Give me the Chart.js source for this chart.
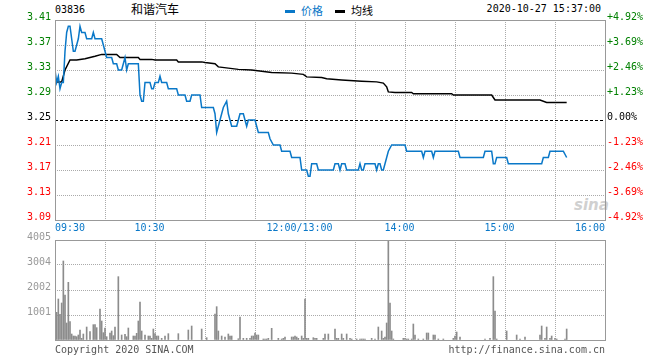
<!DOCTYPE html>
<html>
<head>
<meta charset="utf-8">
<script src="https://cdn.jsdelivr.net/npm/chart.js"></script>
<style>
body { margin: 0; background: #fff; }
#wrap { position: relative; width: 660px; height: 360px; overflow: hidden; font-family: "DejaVu Sans Mono", monospace; font-size: 10px; }
canvas { position: absolute; left: 0; }
.t { position: absolute; white-space: nowrap; line-height: 12px; }
.cn { font-family: "Noto Sans CJK SC", sans-serif; }
.sw { display: inline-block; width: 10px; height: 3px; vertical-align: middle; margin-right: 6px; position: relative; top: -1px; }
</style>
</head>
<body>
<div id="wrap">
  <span class="t" style="left:55px;top:4px;color:#000">03836</span>
  <span class="t cn" style="left:131px;top:2px;font-size:12px;line-height:14px;color:#000">和谐汽车</span>
  <span class="t cn" style="left:285px;top:3px;font-size:11px;line-height:14px;color:#0a78c8"><i class="sw" style="background:#0a78c8"></i>价格</span>
  <span class="t cn" style="left:335px;top:3px;font-size:11px;line-height:14px;color:#000"><i class="sw" style="background:#000"></i>均线</span>
  <span class="t" style="right:59px;top:3px;color:#000">2020-10-27 15:37:00</span>
  <span class="t" style="left:574px;top:196px;font:italic bold 15px 'DejaVu Sans',sans-serif;color:#d0d0d0">sina</span>
  <canvas id="priceChart" width="660" height="235" style="top:0"></canvas>
  <canvas id="volChart" width="660" height="125" style="top:225px"></canvas>
  <span class="t" style="left:55px;top:344px;color:#555">Copyright 2020 SINA.COM</span>
  <span class="t" style="right:55px;top:344px;color:#555">http://finance.sina.com.cn</span>
</div>
<script>
// 分时数据 (minutes from 09:30, lunch break removed)
const timeTicks = [0, 60, 150, 210, 270, 330];
const timeLabels = ["09:30", "10:30", "12:00/13:00", "14:00", "15:00", "16:00"];
const prevClose = 3.25;
const priceTicks = [3.09, 3.13, 3.17, 3.21, 3.25, 3.29, 3.33, 3.37, 3.41];
const pctTicks = [-4.92, -3.69, -2.46, -1.23, 0, 1.23, 2.46, 3.69, 4.92];
const volTicks = [0, 1001, 2002, 3004, 4005];

const priceMin = [0,1,2,3,4,5,6,7,8,9,10,11,12,13,14,15,16,18,19,22,23,24,28,29,30,31,34,35,37,38,40,41,42,43,44,50,51,52,53,54,57,58,59,60,62,63,64,67,68,73,74,78,79,81,82,87,88,95,96,97,98,99,100,101,103,104,105,106,109,110,111,113,114,115,116,120,121,122,128,129,131,135,136,141,142,147,148,151,152,153,154,157,158,167,168,170,171,172,174,175,182,183,184,185,186,192,193,194,195,196,197,198,199,200,202,210,211,220,221,222,226,227,228,242,243,257,258,262,263,264,265,271,272,292,293,296,297,305,307];
const priceVal = [3.33,3.31,3.32,3.30,3.31,3.31,3.36,3.39,3.40,3.40,3.38,3.36,3.36,3.37,3.38,3.40,3.39,3.39,3.38,3.38,3.39,3.38,3.38,3.37,3.36,3.35,3.35,3.34,3.34,3.33,3.33,3.34,3.35,3.33,3.34,3.34,3.29,3.28,3.28,3.31,3.31,3.30,3.30,3.31,3.31,3.32,3.31,3.31,3.30,3.30,3.29,3.29,3.28,3.28,3.29,3.29,3.27,3.27,3.26,3.23,3.24,3.25,3.26,3.27,3.28,3.26,3.25,3.24,3.24,3.25,3.26,3.26,3.25,3.24,3.25,3.25,3.24,3.23,3.23,3.22,3.21,3.21,3.20,3.20,3.19,3.19,3.17,3.17,3.16,3.16,3.18,3.18,3.17,3.17,3.18,3.18,3.17,3.18,3.18,3.17,3.17,3.18,3.17,3.17,3.18,3.18,3.17,3.18,3.18,3.17,3.17,3.18,3.19,3.20,3.21,3.21,3.20,3.20,3.19,3.20,3.20,3.19,3.20,3.20,3.19,3.19,3.20,3.20,3.18,3.18,3.19,3.19,3.18,3.18,3.19,3.19,3.20,3.20,3.19];

const avgMin = [0,4,6,9,13,18,24,28,37,39,50,51,58,60,73,74,88,90,96,98,104,110,118,130,142,149,151,160,163,172,184,193,197,199,200,204,214,215,238,239,262,264,291,295,307];
const avgVal = [3.311,3.311,3.33,3.346,3.346,3.348,3.352,3.355,3.355,3.350,3.350,3.347,3.347,3.346,3.346,3.343,3.343,3.342,3.340,3.335,3.333,3.331,3.330,3.326,3.325,3.323,3.319,3.318,3.316,3.314,3.312,3.311,3.309,3.303,3.295,3.294,3.294,3.292,3.292,3.290,3.290,3.282,3.282,3.278,3.278];

const volMin = [1,2,3,4,5,6,7,8,9,10,11,12,13,14,15,16,17,19,21,23,24,25,27,28,29,30,31,33,34,35,36,38,40,42,43,44,47,48,49,50,51,52,54,56,57,58,59,60,61,62,64,66,68,74,80,82,88,91,96,97,98,100,102,104,105,106,110,111,113,115,117,118,119,120,121,122,125,126,127,128,130,134,136,137,138,142,143,144,145,146,148,149,150,151,152,155,156,157,161,162,164,168,169,170,172,173,175,177,178,181,183,184,185,186,190,192,194,196,197,198,199,200,201,202,203,209,210,211,212,214,215,216,218,221,223,224,227,228,230,233,239,240,241,243,258,261,263,264,265,271,277,279,282,291,292,294,295,297,298,300,301,306,307];
const volVal = [1108,1642,1028,1482,3164,1802,681,2310,734,240,160,160,133,200,400,67,240,520,334,614,614,494,1242,761,294,480,133,280,360,174,520,2537,200,227,133,480,160,160,267,761,1522,360,200,160,160,67,440,254,160,160,67,160,254,254,400,560,440,93,1041,1335,360,160,120,240,160,160,50,921,67,67,67,160,160,280,200,200,40,40,40,67,467,67,40,67,120,120,120,160,120,67,160,67,1642,67,67,93,67,67,67,240,240,440,67,67,240,67,240,67,40,40,40,40,40,40,67,40,520,360,67,120,681,4005,1482,360,40,67,67,40,40,40,640,200,40,40,280,280,200,200,40,40,67,160,320,120,40,67,2537,1161,40,360,200,40,120,200,560,67,520,67,160,67,40,40,440];

const green = "#008000", red = "#ff0000", blue = "#0a78c8", gridGray = "#aaaaaa";
const monoFont = { family: "DejaVu Sans Mono", size: 10 };

function pts(xs, ys) { return xs.map((x, i) => ({ x: x, y: ys[i] })); }
function upDown(v, base) {
    if (Math.abs(v - base) < 1e-6) return "#000";
    return v > base ? green : red;
}
function fixWidth(w) {
    return s => { s.width = w; s.paddingTop = 0; s.paddingBottom = 0; };
}
function noHeight(s) { s.height = 0; s.paddingLeft = 0; s.paddingRight = 0; }

// 边框、昨收线和时间标签
const framePlugin = {
    id: "frame",
    beforeDatasetsDraw(chart, args, opts) {
        if (opts.baseLine == null) return;
        const a = chart.chartArea, ctx = chart.ctx;
        const y = Math.round(chart.scales.y.getPixelForValue(opts.baseLine)) + 0.5;
        ctx.save();
        ctx.strokeStyle = "#000";
        ctx.lineWidth = 1;
        ctx.setLineDash([3, 2]);
        ctx.beginPath();
        ctx.moveTo(a.left, y);
        ctx.lineTo(a.right, y);
        ctx.stroke();
        ctx.restore();
    },
    afterDraw(chart, args, opts) {
        const a = chart.chartArea, ctx = chart.ctx;
        ctx.save();
        ctx.strokeStyle = "#999";
        ctx.lineWidth = 1;
        ctx.strokeRect(a.left + 0.5, a.top + 0.5, a.right - a.left, a.bottom - a.top);
        if (opts.labels) {
            const xs = chart.scales.x;
            ctx.font = "10px 'DejaVu Sans Mono'";
            ctx.fillStyle = blue;
            ctx.textBaseline = "middle";
            opts.labels.forEach((lab, i) => {
                let x = xs.getPixelForValue(opts.values[i]);
                if (i === 0) ctx.textAlign = "left";
                else if (i === opts.labels.length - 1) ctx.textAlign = "right";
                else { ctx.textAlign = "center"; x -= 5.5; }
                ctx.fillText(lab, x, a.bottom + 8);
            });
        }
        ctx.restore();
    }
};

const xAxis = {
    type: "linear", min: 0, max: 330, offset: false,
    ticks: { display: false, stepSize: 30 },
    grid: { color: gridGray, drawTicks: false, offset: false },
    border: { display: false, dash: [1, 1] },
    afterFit: noHeight
};

new Chart(document.getElementById("priceChart").getContext("2d"), {
    type: "line",
    data: {
        datasets: [{
            label: "价格",
            data: pts(priceMin, priceVal),
            borderColor: blue,
            borderWidth: 1.5,
            pointRadius: 0,
            tension: 0
        }, {
            label: "均线",
            data: pts(avgMin, avgVal),
            borderColor: "#000",
            borderWidth: 1.5,
            pointRadius: 0,
            tension: 0
        }]
    },
    options: {
        responsive: false,
        devicePixelRatio: 1,
        animation: false,
        events: [],
        layout: { padding: { top: 20, bottom: 15, left: 0, right: 0 } },
        plugins: {
            legend: { display: false },
            tooltip: { enabled: false },
            frame: { baseLine: prevClose, labels: timeLabels, values: timeTicks }
        },
        scales: {
            x: xAxis,
            y: {
                position: "left", min: 3.09, max: 3.41,
                afterBuildTicks: s => { s.ticks = priceTicks.map(v => ({ value: v })); },
                afterFit: fixWidth(55),
                ticks: {
                    font: monoFont, padding: 4, labelOffset: -3,
                    color: c => upDown(c.tick.value, prevClose),
                    callback: v => v.toFixed(2)
                },
                grid: {
                    drawTicks: false,
                    color: c => (c.tick && Math.abs(c.tick.value - prevClose) < 1e-6) ? "rgba(0,0,0,0)" : gridGray
                },
                border: { display: false, dash: [1, 1] }
            },
            y2: {
                position: "right", min: -4.92, max: 4.92,
                afterBuildTicks: s => { s.ticks = pctTicks.map(v => ({ value: v })); },
                afterFit: fixWidth(55),
                ticks: {
                    font: monoFont, padding: 2, labelOffset: -3,
                    color: c => upDown(c.tick.value, 0),
                    callback: v => (v > 0 ? "+" : "") + v.toFixed(2) + "%"
                },
                grid: { drawOnChartArea: false, drawTicks: false },
                border: { display: false }
            }
        }
    },
    plugins: [framePlugin]
});

new Chart(document.getElementById("volChart").getContext("2d"), {
    type: "bar",
    data: {
        datasets: [{
            label: "成交量",
            data: pts(volMin, volVal),
            backgroundColor: "#8c8c8c",
            barThickness: 1,
            borderWidth: 0
        }]
    },
    options: {
        responsive: false,
        devicePixelRatio: 1,
        animation: false,
        events: [],
        layout: { padding: { top: 15, bottom: 10, left: 0, right: 55 } },
        plugins: {
            legend: { display: false },
            tooltip: { enabled: false },
            frame: {}
        },
        scales: {
            x: xAxis,
            y: {
                position: "left", min: 0, max: 4005,
                afterBuildTicks: s => { s.ticks = volTicks.map(v => ({ value: v })); },
                afterFit: fixWidth(55),
                ticks: {
                    font: monoFont, padding: 4, labelOffset: -2.5, color: "#999",
                    callback: v => v === 0 ? "" : String(v)
                },
                grid: { color: gridGray, drawTicks: false },
                border: { display: false, dash: [1, 1] }
            }
        }
    },
    plugins: [framePlugin]
});
</script>
</body>
</html>
